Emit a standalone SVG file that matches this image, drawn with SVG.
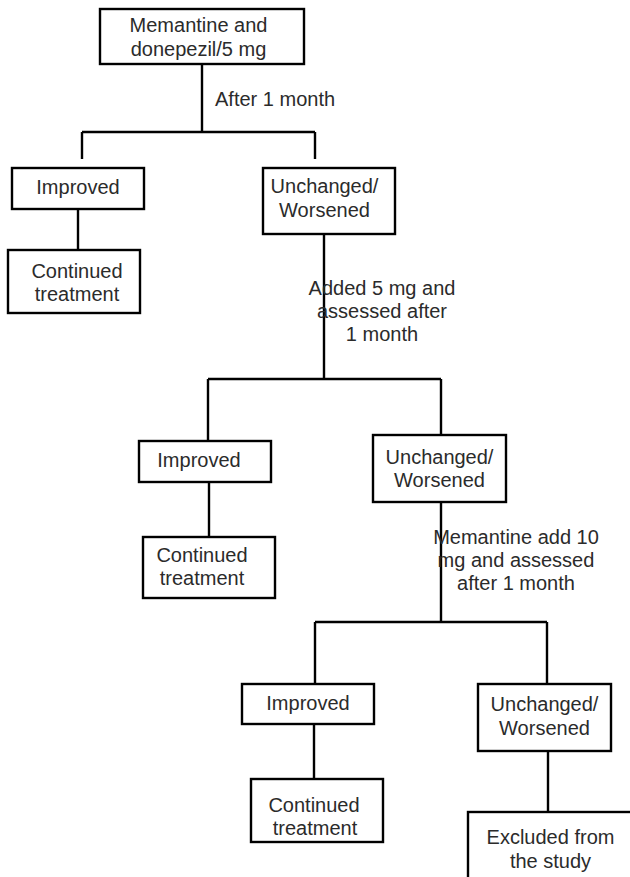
<svg xmlns="http://www.w3.org/2000/svg" width="630" height="877" viewBox="0 0 630 877">
<style>
.box{fill:#fff;stroke:#000;stroke-width:2.4}
.ln{fill:none;stroke:#000;stroke-width:2.4}
text{font-family:"Liberation Sans",Arial,sans-serif;font-size:20px;fill:#2b2b2b}
.c{text-anchor:middle}
</style>
<rect width="630" height="877" fill="#fff"/>
<g id="connectors">
<path class="ln" d="M202,64V132M82,132H315M82,132V159M315,132V159"/>
<path class="ln" d="M78,209V250"/>
<path class="ln" d="M324,234V379M208,379H441M208,379V441M441,379V435"/>
<path class="ln" d="M209,482V537"/>
<path class="ln" d="M441,502V622M315,622H547M315,622V684M547,622V684"/>
<path class="ln" d="M314,724V779"/>
<path class="ln" d="M548,751V812"/>
</g>
<g id="labels">
<text x="215" y="106">After 1 month</text>
<text class="c" x="382" y="295">Added 5 mg and</text>
<text class="c" x="382" y="318">assessed after</text>
<text class="c" x="382" y="341">1 month</text>
<text class="c" x="516" y="544">Memantine add 10</text>
<text class="c" x="516" y="567">mg and assessed</text>
<text class="c" x="516" y="590">after 1 month</text>
</g>
<g id="start">
<rect class="box" x="100" y="9" width="204" height="55"/>
<text class="c" x="198.5" y="32">Memantine and</text>
<text class="c" x="198.5" y="56">donepezil/5 mg</text>
</g>
<g id="improved1">
<rect class="box" x="12" y="168" width="132" height="41"/>
<text class="c" x="78" y="194">Improved</text>
</g>
<g id="continued1">
<rect class="box" x="8" y="250" width="132" height="63"/>
<text class="c" x="77" y="278">Continued</text>
<text class="c" x="77" y="301">treatment</text>
</g>
<g id="unchanged1">
<rect class="box" x="263" y="168" width="132" height="66"/>
<text class="c" x="324.5" y="193">Unchanged/</text>
<text class="c" x="324.5" y="217">Worsened</text>
</g>
<g id="improved2">
<rect class="box" x="139" y="441" width="132" height="41"/>
<text class="c" x="199" y="467">Improved</text>
</g>
<g id="continued2">
<rect class="box" x="143" y="537" width="132" height="61"/>
<text class="c" x="202" y="562">Continued</text>
<text class="c" x="202" y="585">treatment</text>
</g>
<g id="unchanged2">
<rect class="box" x="373" y="435" width="133" height="67"/>
<text class="c" x="439.5" y="464">Unchanged/</text>
<text class="c" x="439.5" y="487">Worsened</text>
</g>
<g id="improved3">
<rect class="box" x="242" y="684" width="132" height="40"/>
<text class="c" x="308" y="710">Improved</text>
</g>
<g id="continued3">
<rect class="box" x="251" y="779" width="132" height="63"/>
<text class="c" x="314" y="812">Continued</text>
<text class="c" x="315" y="835">treatment</text>
</g>
<g id="unchanged3">
<rect class="box" x="478" y="684" width="133" height="67"/>
<text class="c" x="544.5" y="711">Unchanged/</text>
<text class="c" x="544.5" y="735">Worsened</text>
</g>
<g id="excluded">
<rect class="box" x="468" y="812" width="170" height="80"/>
<text class="c" x="550.5" y="844">Excluded from</text>
<text class="c" x="550.5" y="868">the study</text>
</g>
</svg>
